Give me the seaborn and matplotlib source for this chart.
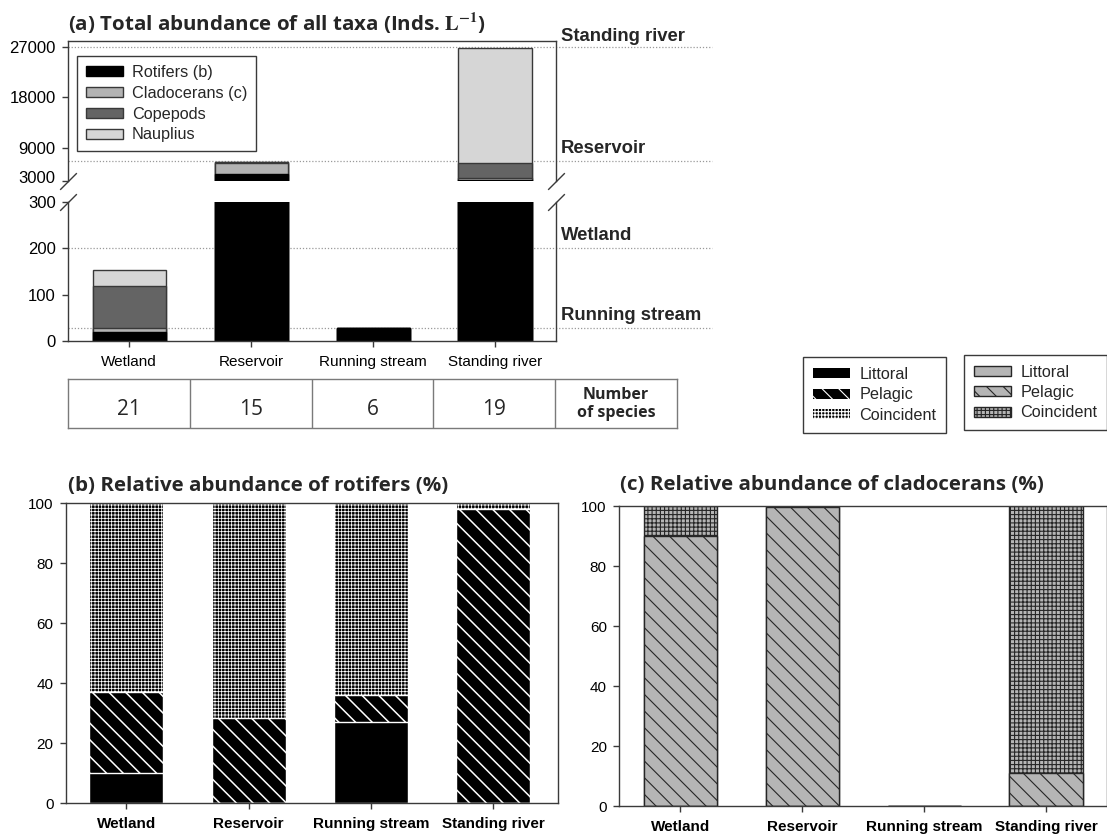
import numpy as np
import matplotlib
matplotlib.use("Agg")
import matplotlib.pyplot as plt
from matplotlib.patches import Patch
from matplotlib.transforms import ScaledTranslation
import seaborn as sns

# ---------------------------------------------------------------- data
sites = ["Wetland", "Reservoir", "Running stream", "Standing river"]

# (a) total abundance of all taxa (Inds. L-1), stacked bottom -> top
rotifers = [18.5, 4200, 27, 3150]
cladocerans = [10, 2000, 0, 400]
copepods = [89.5, 300, 0, 2650]
nauplius = [34, 0, 0, 20700]
taxa_names = ["Rotifers (b)", "Cladocerans (c)", "Copepods", "Nauplius"]

# dotted reference levels labelled at the right of panel (a)
level_names = ["Standing river", "Reservoir", "Wetland", "Running stream"]
level_values = [27000, 6530, 200, 28]

# number of species per site
species = [21, 15, 6, 19]

# (b) relative abundance of rotifers (%)
rot_littoral = [10, 0, 27.2, 0]
rot_pelagic = [27, 28.3, 8.9, 98]
rot_coincident = [63, 71.7, 63.9, 2]

# (c) relative abundance of cladocerans (%)
cla_littoral = [0, 0, 0, 0]
cla_pelagic = [90, 99.6, 0, 11]
cla_coincident = [10, 0.4, 0, 89]

habitat_names = ["Littoral", "Pelagic", "Coincident"]

# ---------------------------------------------------------------- style
sns.set_theme(style="ticks", rc={
    "axes.edgecolor": "#3a3a3a",
    "axes.linewidth": 1.0,
    "xtick.color": "#3a3a3a",
    "ytick.color": "#3a3a3a",
    "xtick.labelcolor": "black",
    "ytick.labelcolor": "black",
    "xtick.major.size": 4,
    "ytick.major.size": 4,
    "xtick.major.width": 1,
    "ytick.major.width": 1,
    "xtick.major.pad": 6,
    "ytick.major.pad": 5,
    "xtick.labelsize": 11,
    "ytick.labelsize": 11,
    "hatch.linewidth": 0.8,
    "axes.grid": False,
})
plt.rcParams["font.family"] = ["Liberation Sans", "DejaVu Sans"]
plt.rcParams["mathtext.fontset"] = "stix"

W, H = 1107, 839
fig = plt.figure(figsize=(W / 100, H / 100), dpi=100)


def box(left, top, right, bottom):
    return fig.add_axes([left / W, 1 - bottom / H, (right - left) / W, (bottom - top) / H])


def stacked(ax, layers, styles, width):
    cum = np.cumsum(np.array(layers, dtype=float), axis=0)
    for vals, st in reversed(list(zip(cum, styles))):
        st = dict(st)
        hlw = st.pop("hatch_lw", None)
        n_before = len(ax.patches)
        sns.barplot(x=sites, y=vals, order=sites, ax=ax, width=width,
                    saturation=1, errorbar=None, **st)
        if hlw is not None:
            for p in ax.patches[n_before:]:
                if hasattr(p, "set_hatch_linewidth"):
                    p.set_hatch_linewidth(hlw)
    ax.set_xlabel("")
    ax.set_ylabel("")


TITLE_FONT = ["Open Sans", "DejaVu Sans"]

# ---------------------------------------------------------------- panel (a)
ax_hi = box(68.3, 41.5, 556, 181)
ax_lo = box(68.3, 201.7, 556, 341)

a_styles = [
    dict(color="black", edgecolor="black", linewidth=1),
    dict(color="#b3b3b3", edgecolor="#383838", linewidth=1),
    dict(color="#646464", edgecolor="#383838", linewidth=1),
    dict(color="#d6d6d6", edgecolor="#383838", linewidth=1),
]
a_layers = [rotifers, cladocerans, copepods, nauplius]
for ax in (ax_hi, ax_lo):
    stacked(ax, a_layers, a_styles, 0.6)
    ax.set_xlim(-0.5, 3.5)
    ax.tick_params(axis="y", labelsize=12)

ax_hi.set_ylim(3000, 28040)
ax_hi.set_yticks([3000, 9000, 18000, 27000])
ax_hi.spines["bottom"].set_visible(False)
ax_hi.tick_params(axis="x", bottom=False, labelbottom=False)
# lift the lowest label of the upper segment clear of the break
low_lab = ax_hi.get_yticklabels()[0]
low_lab.set_transform(low_lab.get_transform() + ScaledTranslation(0, 4 / 100, fig.dpi_scale_trans))

ax_lo.set_ylim(0, 300)
ax_lo.set_yticks([0, 100, 200, 300])
ax_lo.spines["top"].set_visible(False)

# axis break marks
brk = dict(marker=[(-1, -1), (1, 1)], markersize=12, linestyle="none",
           color="#3a3a3a", mec="#3a3a3a", mew=1, clip_on=False)
ax_hi.plot([0, 1], [0, 0], transform=ax_hi.transAxes, **brk)
ax_lo.plot([0, 1], [1, 1], transform=ax_lo.transAxes, **brk)

# dotted reference levels with labels outside the axes
x_end = -0.5 + (712 - 68.3) * 4 / 487.7
x_lab = -0.5 + (560.7 - 68.3) * 4 / 487.7
for name, lvl in zip(level_names, level_values):
    ax = ax_hi if lvl >= 3000 else ax_lo
    lift = 4.3 if lvl >= 20000 else 6
    ax.plot([-0.5, x_end], [lvl, lvl], color="#9a9a9a", lw=0.9,
            ls=(0, (1, 1.5)), clip_on=False, zorder=0.5)
    ax.annotate(name, xy=(x_lab, lvl), xytext=(0, lift), textcoords="offset points",
                fontsize=13.3, fontweight="bold", ha="left", va="baseline",
                annotation_clip=False)

a_handles = [Patch(facecolor=s["color"], edgecolor=s["edgecolor"], linewidth=1)
             for s in a_styles]
fig.legend(a_handles, taxa_names, loc="upper left",
           bbox_to_anchor=(76.7 / W, 1 - 56 / H), bbox_transform=fig.transFigure,
           borderaxespad=0, frameon=True, fancybox=False, framealpha=1,
           edgecolor="#3a3a3a", fontsize=11.7, handlelength=2.3, handleheight=0.6,
           handletextpad=0.55, labelspacing=0.36, borderpad=0.55)

# ---------------------------------------------------------------- species table
ax_tab = box(68.3, 379.3, 676.7, 428.3)
ax_tab.set_xlim(-0.5, 4.5)
ax_tab.set_ylim(0, 1)
ax_tab.set_xticks([])
ax_tab.set_yticks([])
for sp in ax_tab.spines.values():
    sp.set_color("#7a7a7a")
for xv in [0.5, 1.5, 2.5, 3.5]:
    ax_tab.axvline(xv, color="#7a7a7a", lw=1)
for i, n in enumerate(species):
    ax_tab.text(i, 0.2755, str(n), ha="center", va="baseline", fontsize=15,
                family=TITLE_FONT)
ax_tab.text(4, 0.49, "Number\nof species", ha="center", va="center",
            fontsize=11.5, fontweight="bold", family=TITLE_FONT, linespacing=1.15)

# ---------------------------------------------------------------- panel (b)
ax_b = box(66, 503.3, 558.3, 803.3)
b_styles = [
    dict(color="black", edgecolor="white", linewidth=1),
    dict(color="black", edgecolor="white", linewidth=1, hatch="\\\\", hatch_lw=1.1),
    dict(color="black", edgecolor="white", linewidth=1, hatch="+++++", hatch_lw=0.55),
]
stacked(ax_b, [rot_littoral, rot_pelagic, rot_coincident], b_styles, 0.605)
ax_b.set_xlim(-0.493, 3.532)
ax_b.set_ylim(0, 100)
ax_b.set_yticks([0, 20, 40, 60, 80, 100])
for lab in ax_b.get_xticklabels():
    lab.set_fontweight("bold")

# ---------------------------------------------------------------- panel (c)
ax_c = box(619.3, 506, 1107, 806)
c_styles = [
    dict(color="#b5b5b5", edgecolor="#262626", linewidth=1),
    dict(color="#b5b5b5", edgecolor="#262626", linewidth=1, hatch="\\\\", hatch_lw=0.8),
    dict(color="#b5b5b5", edgecolor="#262626", linewidth=1, hatch="++++", hatch_lw=0.8),
]
stacked(ax_c, [cla_littoral, cla_pelagic, cla_coincident], c_styles, 0.6)
ax_c.set_xlim(-0.5, 3.5)
ax_c.set_ylim(0, 100)
ax_c.set_yticks([0, 20, 40, 60, 80, 100])
for lab in ax_c.get_xticklabels():
    lab.set_fontweight("bold")

# habitat legends
b_handles = [Patch(facecolor="black", edgecolor="white", linewidth=0, hatch=s.get("hatch"))
             for s in b_styles]
c_handles = [Patch(facecolor="#b5b5b5", edgecolor="#262626", linewidth=1, hatch=s.get("hatch"))
             for s in c_styles]
leg_kw = dict(loc="upper left", bbox_transform=fig.transFigure, borderaxespad=0,
              frameon=True, fancybox=False, framealpha=1, fontsize=11.7,
              handlelength=2.3, handleheight=0.55, handletextpad=0.55,
              labelspacing=0.33, borderpad=0.6)
fig.legend(b_handles, habitat_names, bbox_to_anchor=(803.3 / W, 1 - 357.3 / H),
           edgecolor="#3a3a3a", **leg_kw)
fig.legend(c_handles, habitat_names, bbox_to_anchor=(964.3 / W, 1 - 355 / H),
           edgecolor="#3a3a3a", **leg_kw)

# ---------------------------------------------------------------- titles
renderer = fig.canvas.get_renderer()
probe = fig.text(0, 0, "(b) Relative abundance of rotifers (%)", fontsize=20,
                 fontweight="bold", family=TITLE_FONT)
title_size = 20 * 379 / probe.get_window_extent(renderer=renderer).width
probe.remove()

titles = [
    (r"(a) Total abundance of all taxa (Inds. $\mathbf{L^{-1}}$)", 68, 31),
    ("(b) Relative abundance of rotifers (%)", 68, 491),
    ("(c) Relative abundance of cladocerans (%)", 620, 490),
]
for txt, xp, yp in titles:
    fig.text(xp / W, 1 - yp / H, txt, fontsize=title_size, fontweight="bold",
             family=TITLE_FONT, ha="left", va="baseline")

fig.savefig("out.png", dpi=100, facecolor="white")
